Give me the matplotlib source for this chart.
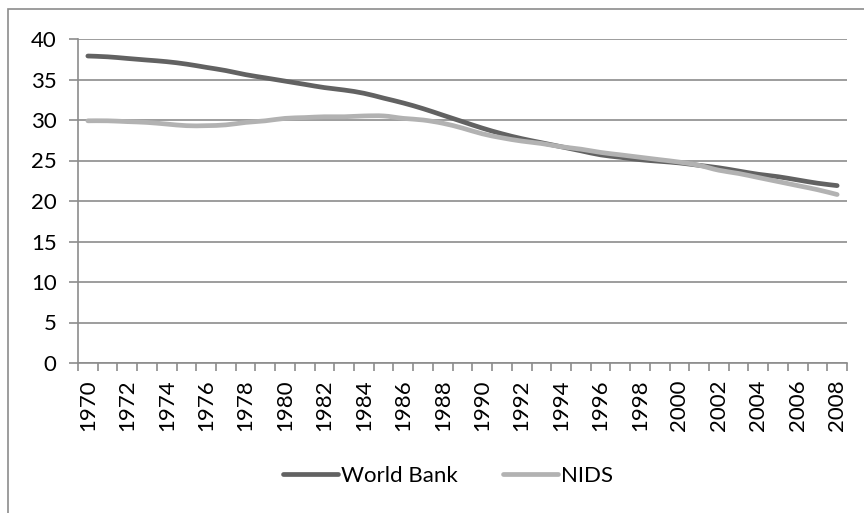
import matplotlib.pyplot as plt
from matplotlib.patches import Rectangle, PathPatch
from matplotlib.path import Path
from matplotlib.lines import Line2D
import numpy as np

plt.rcParams['font.family'] = ['Lato', 'DejaVu Sans']

# Years on the category axis
years = list(range(1970, 2009))

# Series values, one per year
world_bank = [37.9, 37.8, 37.6, 37.4, 37.2, 36.9, 36.5, 36.1, 35.6, 35.2,
              34.8, 34.4, 34.0, 33.7, 33.3, 32.7, 32.1, 31.4, 30.6, 29.8,
              29.0, 28.3, 27.7, 27.2, 26.7, 26.2, 25.7, 25.4, 25.1, 24.9,
              24.7, 24.4, 24.1, 23.7, 23.3, 23.0, 22.6, 22.2, 21.9]
nids = [29.9, 29.9, 29.8, 29.7, 29.5, 29.3, 29.3, 29.4, 29.7, 29.9,
        30.2, 30.3, 30.4, 30.4, 30.5, 30.5, 30.2, 30.0, 29.6, 29.0,
        28.3, 27.8, 27.4, 27.1, 26.7, 26.4, 26.0, 25.7, 25.4, 25.1,
        24.8, 24.4, 23.8, 23.4, 22.9, 22.4, 21.9, 21.4, 20.8]

WB_COLOR = '#626262'
NIDS_COLOR = '#b2b2b2'
LW = 3.4
GRID = '#8c8c8c'


def smooth_path(xs, ys):
    # cubic bezier through every point (catmull-rom style smoothing)
    pts = np.column_stack([xs, ys]).astype(float)
    verts = [pts[0]]
    codes = [Path.MOVETO]
    n = len(pts)
    for i in range(n - 1):
        p0 = pts[max(i - 1, 0)]
        p1 = pts[i]
        p2 = pts[i + 1]
        p3 = pts[min(i + 2, n - 1)]
        c1 = p1 + (p2 - p0) / 6
        c2 = p2 - (p3 - p1) / 6
        verts += [c1, c2, p2]
        codes += [Path.CURVE4] * 3
    return Path(verts, codes)


W, H = 864, 513
fig = plt.figure(figsize=(W / 100, H / 100), dpi=100)
ax = fig.add_axes([78 / W, 1 - 363 / H, (847 - 78) / W, (363 - 39) / H])

# chart area frame (left and top edges visible)
fig.patches.append(Rectangle((8 / W, -0.1), 1.1, 1.1 - 9 / H,
                             transform=fig.transFigure, fill=False,
                             edgecolor=GRID, linewidth=1.2))

x = np.arange(len(years))
for vals, col in [(world_bank, WB_COLOR), (nids, NIDS_COLOR)]:
    ax.add_patch(PathPatch(smooth_path(x, vals), fill=False, edgecolor=col,
                           linewidth=LW, capstyle='round', joinstyle='round',
                           zorder=3))

ax.set_xlim(-0.5, len(years) - 0.5)
ax.set_ylim(0, 40)
ax.set_yticks(range(0, 41, 5))
ax.yaxis.grid(True, color=GRID, linewidth=1.2)
ax.set_axisbelow(True)

# labels on every other year, ticks on category boundaries
ax.set_xticks(x[::2])
ax.set_xticklabels([str(y) for y in years[::2]], rotation=90)
ax.set_xticks(np.arange(-0.5, len(years)), minor=True)
ax.tick_params(axis='x', which='major', length=0, pad=12, labelsize=16)
ax.tick_params(axis='x', which='minor', length=6, color=GRID, width=1.2)
ax.tick_params(axis='y', length=6.5, color=GRID, width=1.2, labelsize=16, pad=9)

for s in ['top', 'right']:
    ax.spines[s].set_visible(False)
for s in ['left', 'bottom']:
    ax.spines[s].set_color(GRID)
    ax.spines[s].set_linewidth(1.2)

handles = [Line2D([], [], color=WB_COLOR, linewidth=LW, solid_capstyle='round'),
           Line2D([], [], color=NIDS_COLOR, linewidth=LW, solid_capstyle='round')]
fig.legend(handles, ['World Bank', 'NIDS'], loc='center',
           bbox_to_anchor=(448 / W, 1 - 476 / H), ncol=2,
           frameon=False, fontsize=16, handlelength=2.5, handletextpad=0.15,
           columnspacing=2.0)

fig.savefig('out.png', dpi=100)
